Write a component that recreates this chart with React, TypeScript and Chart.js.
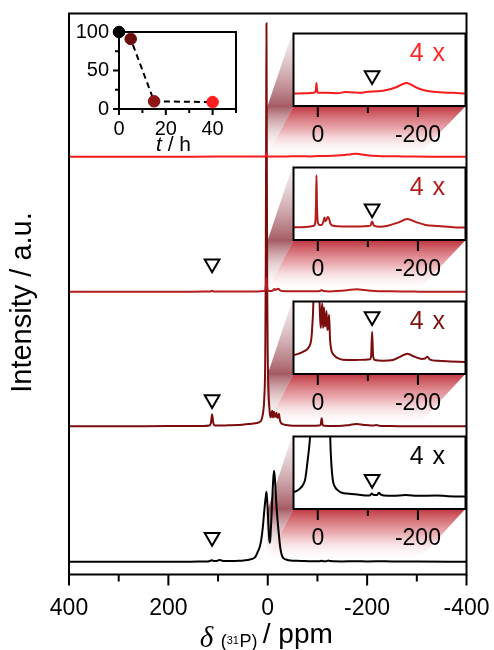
import { useEffect, useRef } from 'react';
import { Chart, registerables } from 'chart.js';

Chart.register(...registerables);

const SANS = "'Liberation Sans', Arial, Helvetica, sans-serif";
const SERIF = "'Liberation Serif', 'Times New Roman', serif";

// ---------------- data ----------------
// 31P spectra, top to bottom: 40 h, 15 h, 5 h, 0 h (intensity in a.u.)
const seriesNames = ['40 h', '15 h', '5 h', '0 h'];

const ppm40h = [400, 300, 200, 100, 50, 20, 8, 5, 3.8, 2.6, 1.4, 0, -20, -40, -55, -70, -85, -100, -120, -140, -155, -168, -177, -186, -200, -222, -250, -272, -295, -330, -400];
const int40h = [0, 0, 0, 0.1, 0.1, 0.2, 0.3, 0.5, 1.2, 2.9, 1.0, 0.3, 0.3, 0.2, 0.5, 0.4, 0.3, 0.6, 0.7, 1.1, 1.7, 2.5, 2.9, 2.5, 1.5, 0.7, 0.4, 0.3, 0.1, 0, 0];

const ppm15h = [400, 300, 200, 130, 115, 112, 109, 80, 50, 20, 8, 5, 3.6, 2.6, 1.6, 0, -4, -8, -11, -13.5, -15.5, -17.5, -20, -22.5, -25, -30, -50, -80, -100, -105, -108.5, -112, -125, -140, -160, -179, -195, -215, -240, -270, -295, -330, -400];
const int15h = [0, 0, 0, 0.1, 0.3, 0.9, 0.3, 0.2, 0.2, 0.3, 0.6, 1.5, 6, 14, 6, 1.5, 0.8, 0.8, 1.6, 2.8, 1.8, 2.2, 2.9, 2.5, 1.2, 0.6, 0.4, 0.4, 0.5, 0.6, 1.7, 0.6, 0.3, 0.6, 1.4, 2.4, 1.6, 0.8, 0.5, 0.2, 0.1, 0, 0];

const ppm5h = [400, 300, 200, 130, 118, 114.5, 112, 109.5, 106, 95, 80, 60, 48, 38, 28, 18, 13, 11, 9, 7, 5, 4, 3.2, 2.6, 2, 1.2, 0, -1.5, -3, -4.5, -6, -7.5, -9, -10.5, -12.5, -14, -15.5, -17.5, -19, -20.5, -22.5, -24.5, -27, -30, -34, -40, -50, -70, -95, -104, -106.5, -108.5, -110.5, -114, -130, -150, -165, -179, -193, -208, -214, -219, -224, -240, -265, -295, -330, -400];
const int5h = [0, 0, 0.2, 0.3, 0.8, 3, 12, 3, 0.8, 0.8, 1.0, 1.3, 1.8, 2.2, 2.8, 3.9, 6, 9.4, 15, 28, 70, 160, 300, 403, 300, 150, 70, 35, 20, 12, 9, 13, 15.5, 9, 14.5, 9.5, 10, 13.5, 8.5, 9, 12.5, 6, 3.2, 2.2, 1.6, 1.0, 0.6, 0.5, 0.6, 0.7, 1.6, 8, 1.6, 0.5, 0.3, 0.5, 1.4, 2.2, 1.4, 0.8, 0.9, 1.4, 0.6, 0.3, 0.1, 0, 0, 0];

const ppm0h = [400, 300, 200, 140, 120, 115, 112.5, 109, 104, 99, 96, 92, 85, 70, 55, 45, 36, 30, 25, 20, 16, 13, 10, 8, 6, 4, 2.6, 1, -1, -3, -4, -5, -7, -9, -11, -12.7, -14.5, -17, -20, -23, -25.5, -27.5, -30, -33, -38, -46, -58, -75, -95, -104, -108, -112, -118, -122, -126, -132, -150, -176, -200, -236, -260, -300, -400];
const int0h = [0, 0, 0, 0.1, 0.3, 1.0, 1.4, 0.7, 0.6, 1.5, 1.8, 1.0, 0.6, 0.6, 1.0, 1.4, 2.2, 3.1, 4.8, 10, 15, 22, 34, 45, 56, 65, 70, 60, 40, 23, 19, 22, 40, 62, 82, 91, 82, 60, 40, 24, 13, 8, 4.5, 3.0, 2.0, 1.2, 0.9, 0.7, 0.4, 0.4, 0.9, 0.5, 0.5, 1.1, 0.6, 0.4, 0.3, 0.5, 0.3, 0.4, 0.2, 0.1, 0];

const spectraPpm = [ppm40h, ppm15h, ppm5h, ppm0h];
const spectraInt = [int40h, int15h, int5h, int0h];
const stackOffsets = [417.8, 282.8, 148.2, 12.8];

// open-triangle markers
const mainMarkPpm = 112;
const mainMarkHeight = [null, 28, 26.7, 24.5];
const insetMarkPpm = -108.5;
const insetMarkHeight = [4.9, 5.1, 12.1, 4.7];

// inset (t / h) data
const timeHours = [0, 5, 15, 40];
const remainingPct = [100, 91, 10, 9];

// ---------------- styles / layout ----------------
const seriesColors = ['#f41c1c', '#b51d1d', '#7b0d0d', '#000000'];
const magnifyColors = ['#ff2626', '#b21c1c', '#821212', '#000000'];
const timeColors = ['#000000', '#690c0c', '#8f1515', '#ff1c1c'];

const W = 494, H = 650;
const MAIN = { left: 69, top: 13.5, right: 466.5, bottom: 574.5 };
const INSET_LEFT = 293.5, INSET_RIGHT = 465.5, INSET_H = 77;
const INSET_TOPS = [29.3, 163.3, 296.7, 431.7];
const INSET_CANVAS_LEFT = 280, INSET_CANVAS_W = 200, INSET_PAD_TOP = 6, INSET_AXIS_H = 44;
const INSET_PPM_MAX = 48.5, INSET_PPM_MIN = -295;
const INSET_Y_MIN = -3.2, INSET_Y_MAX = -3.2 + INSET_H / 4;
const TIME = { left: 60, top: 14, width: 200, height: 150 };

const isMult = (v: number, m: number) => Math.abs(v / m - Math.round(v / m)) < 1e-6;

function drawXTicks(ctx: any, scale: any, bottom: number, majorEvery: number, minorEvery: number, majorLen: number, minorLen: number) {
  ctx.save();
  ctx.strokeStyle = '#000';
  ctx.lineWidth = 2;
  scale.ticks.forEach((t: any) => {
    const v = t.value;
    if (!isMult(v, minorEvery)) return;
    const len = isMult(v, majorEvery) ? majorLen : minorLen;
    const px = scale.getPixelForValue(v);
    ctx.beginPath();
    ctx.moveTo(px, bottom);
    ctx.lineTo(px, bottom + len);
    ctx.stroke();
  });
  ctx.restore();
}

const mainDecor = {
  id: 'mainDecor',
  beforeDatasetsDraw(chart: any) {
    const { ctx } = chart;
    const x = chart.scales.x, y = chart.scales.y;
    const x1 = x.getPixelForValue(2);
    const x2 = x.getPixelForValue(-300);
    INSET_TOPS.forEach((T, i) => {
      const B = T + INSET_H;
      const base = y.getPixelForValue(stackOffsets[i]);
      ctx.save();
      let g = ctx.createLinearGradient(0, T, 0, base);
      g.addColorStop(0, 'rgba(205,175,180,0.15)');
      g.addColorStop((B - T) / (base - T), 'rgba(150,62,72,0.85)');
      g.addColorStop(1, 'rgba(255,255,255,0)');
      ctx.fillStyle = g;
      ctx.beginPath();
      ctx.moveTo(INSET_LEFT, T);
      ctx.lineTo(INSET_LEFT, B);
      ctx.lineTo(x1, base);
      ctx.lineTo(x1, T + 0.62 * (base - T));
      ctx.closePath();
      ctx.fill();
      g = ctx.createLinearGradient(0, B, 0, base);
      g.addColorStop(0, 'rgba(188,42,52,0.95)');
      g.addColorStop(0.45, 'rgba(218,112,120,0.6)');
      g.addColorStop(1, 'rgba(255,255,255,0)');
      ctx.fillStyle = g;
      ctx.beginPath();
      ctx.moveTo(INSET_LEFT, B);
      ctx.lineTo(INSET_RIGHT, B);
      ctx.lineTo(x2, base);
      ctx.lineTo(x1, base);
      ctx.closePath();
      ctx.fill();
      ctx.restore();
    });
  },
  afterDatasetsDraw(chart: any) {
    const { ctx, chartArea: a } = chart;
    const x = chart.scales.x;
    ctx.save();
    ctx.strokeStyle = '#000';
    ctx.lineWidth = 2;
    ctx.strokeRect(a.left, a.top, a.right - a.left, a.bottom - a.top);
    ctx.restore();
    drawXTicks(ctx, x, a.bottom, 200, 100, 11, 7);

    // x-axis title: δ (31P) / ppm
    const c = x.getPixelForValue(0);
    const base = 643;
    ctx.save();
    ctx.fillStyle = '#000';
    ctx.textBaseline = 'alphabetic';
    ctx.textAlign = 'left';
    ctx.font = `italic 29px ${SERIF}`;
    ctx.fillText('δ', c - 68, base + 4);
    let cx = c - 47;
    ctx.font = `18px ${SANS}`;
    ctx.fillText('(', cx, base + 3.5);
    cx += ctx.measureText('(').width;
    ctx.font = `11px ${SANS}`;
    ctx.fillText('31', cx, base + 0.5);
    cx += ctx.measureText('31').width + 0.5;
    ctx.font = `18px ${SANS}`;
    ctx.fillText('P', cx, base + 3.5);
    cx += ctx.measureText('P').width;
    ctx.fillText(')', cx, base + 3.5);
    ctx.font = `28px ${SANS}`;
    ctx.fillText('/ ppm', c - 5, base);
    ctx.restore();

    // y-axis title
    ctx.save();
    ctx.translate(23, 302.5);
    ctx.rotate(-Math.PI / 2);
    ctx.fillStyle = '#000';
    ctx.textAlign = 'center';
    ctx.textBaseline = 'middle';
    ctx.font = `29px ${SANS}`;
    ctx.fillText('Intensity / a.u.', 0, 0);
    ctx.restore();
  },
};

function insetDecor(i: number) {
  return {
    id: 'insetDecor' + i,
    beforeDatasetsDraw(chart: any) {
      const { ctx, chartArea: a } = chart;
      ctx.save();
      ctx.fillStyle = '#fff';
      ctx.fillRect(a.left, a.top, a.right - a.left, a.bottom - a.top);
      ctx.restore();
    },
    afterDatasetsDraw(chart: any) {
      const { ctx, chartArea: a } = chart;
      ctx.save();
      ctx.strokeStyle = '#000';
      ctx.lineWidth = 2;
      ctx.strokeRect(a.left, a.top, a.right - a.left, a.bottom - a.top);
      ctx.restore();
      drawXTicks(ctx, chart.scales.x, a.bottom, 200, 100, 11, 7);
      ctx.save();
      ctx.fillStyle = magnifyColors[i];
      ctx.font = `25px ${SANS}`;
      try { (ctx as any).letterSpacing = '1px'; } catch (e) { /* ignore */ }
      ctx.textBaseline = 'middle';
      ctx.textAlign = 'right';
      ctx.fillText('4 x', a.right - 19.5, a.top + 21);
      ctx.restore();
    },
  };
}

const timeDecor = {
  id: 'timeDecor',
  beforeDatasetsDraw(chart: any) {
    const { ctx, chartArea: a } = chart;
    ctx.save();
    ctx.strokeStyle = '#000';
    ctx.lineWidth = 2;
    ctx.strokeRect(a.left, a.top, a.right - a.left, a.bottom - a.top);
    const xs = chart.scales.x, ys = chart.scales.y;
    xs.ticks.forEach((t: any) => {
      const px = xs.getPixelForValue(t.value);
      const len = isMult(t.value, 20) ? 6 : 4;
      ctx.beginPath();
      ctx.moveTo(px, a.bottom);
      ctx.lineTo(px, a.bottom + len);
      ctx.stroke();
    });
    ys.ticks.forEach((t: any) => {
      const py = ys.getPixelForValue(t.value);
      const len = isMult(t.value, 50) ? 6 : 4;
      ctx.beginPath();
      ctx.moveTo(a.left, py);
      ctx.lineTo(a.left - len, py);
      ctx.stroke();
    });
    // "t / h"
    ctx.fillStyle = '#000';
    ctx.textBaseline = 'alphabetic';
    ctx.textAlign = 'left';
    ctx.font = `italic 21px ${SANS}`;
    const wt = ctx.measureText('t').width;
    ctx.font = `21px ${SANS}`;
    const wr = ctx.measureText(' / h').width;
    const start = (a.left + a.right) / 2 - 4 - (wt + wr) / 2;
    const by = a.bottom + 41.5;
    ctx.font = `italic 21px ${SANS}`;
    ctx.fillText('t', start, by);
    ctx.font = `21px ${SANS}`;
    ctx.fillText(' / h', start + wt, by);
    ctx.restore();
  },
};

const noPad = (s: any) => {
  s.paddingLeft = 0;
  s.paddingRight = 0;
  s.paddingTop = 0;
  s.paddingBottom = 0;
};

function spectrumData(i: number, offset: number) {
  return spectraPpm[i].map((p, k) => ({ x: p, y: spectraInt[i][k] + offset }));
}

function triangleDataset(data: any[]) {
  return {
    type: 'scatter',
    data,
    pointStyle: 'triangle',
    pointRotation: 180,
    pointRadius: 8.5,
    pointBorderWidth: 2,
    pointBorderColor: '#000',
    pointBackgroundColor: 'rgba(255,255,255,0)',
    showLine: false,
    clip: false,
  };
}

function buildMain(canvas: HTMLCanvasElement) {
  const marks: any[] = [];
  mainMarkHeight.forEach((h, i) => {
    if (h != null) marks.push({ x: mainMarkPpm, y: stackOffsets[i] + h });
  });
  const datasets: any[] = [triangleDataset(marks)];
  seriesNames.forEach((name, i) => {
    datasets.push({
      type: 'line',
      label: name,
      data: spectrumData(i, stackOffsets[i]),
      borderColor: seriesColors[i],
      borderWidth: 2,
      pointRadius: 0,
      cubicInterpolationMode: 'monotone',
      fill: false,
    });
  });
  return new Chart(canvas, {
    type: 'line',
    data: { datasets },
    options: {
      responsive: false,
      animation: false,
      events: [],
      devicePixelRatio: 1,
      layout: { padding: { left: MAIN.left, right: W - MAIN.right, top: MAIN.top, bottom: 0 } },
      plugins: { legend: { display: false }, tooltip: { enabled: false } },
      scales: {
        x: {
          type: 'linear',
          reverse: true,
          min: -400,
          max: 400,
          grid: { display: false, drawTicks: false },
          border: { display: false },
          ticks: {
            stepSize: 100,
            autoSkip: false,
            maxRotation: 0,
            padding: 20,
            color: '#000',
            font: { family: SANS, size: 23 },
            callback: (v: any) => (isMult(v, 200) ? String(v) : ''),
          },
          afterFit: (s: any) => {
            s.height = H - MAIN.bottom;
            noPad(s);
          },
        },
        y: { type: 'linear', display: false, min: 0, max: MAIN.bottom - MAIN.top },
      },
    } as any,
    plugins: [mainDecor],
  } as any);
}

function buildInset(canvas: HTMLCanvasElement, i: number) {
  return new Chart(canvas, {
    type: 'line',
    data: {
      datasets: [
        triangleDataset([{ x: insetMarkPpm, y: insetMarkHeight[i] }]),
        {
          type: 'line',
          label: seriesNames[i] + ' (4 x)',
          data: spectrumData(i, 0),
          borderColor: seriesColors[i],
          borderWidth: 2,
          pointRadius: 0,
          cubicInterpolationMode: 'monotone',
          fill: false,
        },
      ],
    },
    options: {
      responsive: false,
      animation: false,
      events: [],
      devicePixelRatio: 1,
      layout: {
        padding: {
          left: INSET_LEFT - INSET_CANVAS_LEFT,
          right: INSET_CANVAS_LEFT + INSET_CANVAS_W - INSET_RIGHT,
          top: INSET_PAD_TOP,
          bottom: 0,
        },
      },
      plugins: { legend: { display: false }, tooltip: { enabled: false } },
      scales: {
        x: {
          type: 'linear',
          reverse: true,
          min: INSET_PPM_MIN,
          max: INSET_PPM_MAX,
          grid: { display: false, drawTicks: false },
          border: { display: false },
          ticks: {
            stepSize: 100,
            includeBounds: false,
            autoSkip: false,
            maxRotation: 0,
            padding: 16,
            color: '#000',
            font: { family: SANS, size: 23 },
            callback: (v: any) => (isMult(v, 200) ? String(v) : ''),
          },
          afterFit: (s: any) => {
            s.height = INSET_AXIS_H;
            noPad(s);
          },
        },
        y: { type: 'linear', display: false, min: INSET_Y_MIN, max: INSET_Y_MAX },
      },
    } as any,
    plugins: [insetDecor(i)],
  } as any);
}

function buildTime(canvas: HTMLCanvasElement) {
  return new Chart(canvas, {
    type: 'scatter',
    data: {
      datasets: [
        {
          label: 'remaining / %',
          data: timeHours.map((t, k) => ({ x: t, y: remainingPct[k] })),
          showLine: true,
          borderColor: '#000',
          borderWidth: 2,
          borderDash: [6, 4],
          pointRadius: 5.8,
          pointBackgroundColor: timeColors,
          pointBorderColor: timeColors,
          pointBorderWidth: 1,
          clip: false,
        },
      ],
    },
    options: {
      responsive: false,
      animation: false,
      events: [],
      devicePixelRatio: 1,
      layout: { padding: { left: 0, right: 24, top: 18, bottom: 0 } },
      plugins: { legend: { display: false }, tooltip: { enabled: false } },
      scales: {
        x: {
          type: 'linear',
          min: 0,
          max: 50,
          grid: { display: false, drawTicks: false },
          border: { display: false },
          ticks: {
            stepSize: 10,
            autoSkip: false,
            maxRotation: 0,
            padding: 8,
            color: '#000',
            font: { family: SANS, size: 20 },
            callback: (v: any) => (isMult(v, 20) ? String(v) : ''),
          },
          afterFit: (s: any) => {
            s.height = 55;
            noPad(s);
          },
        },
        y: {
          type: 'linear',
          min: 0,
          max: 100,
          grid: { display: false, drawTicks: false },
          border: { display: false },
          ticks: {
            stepSize: 25,
            autoSkip: false,
            padding: 10,
            color: '#000',
            font: { family: SANS, size: 20 },
            callback: (v: any) => (isMult(v, 50) ? String(v) : ''),
          },
          afterFit: (s: any) => {
            s.width = 59;
            noPad(s);
          },
        },
      },
    } as any,
    plugins: [timeDecor],
  } as any);
}

export default function App() {
  const mainRef = useRef<HTMLCanvasElement>(null);
  const timeRef = useRef<HTMLCanvasElement>(null);
  const r0 = useRef<HTMLCanvasElement>(null);
  const r1 = useRef<HTMLCanvasElement>(null);
  const r2 = useRef<HTMLCanvasElement>(null);
  const r3 = useRef<HTMLCanvasElement>(null);
  const insetRefs = [r0, r1, r2, r3];

  useEffect(() => {
    const charts: Chart[] = [];
    if (mainRef.current) charts.push(buildMain(mainRef.current));
    insetRefs.forEach((r, i) => {
      if (r.current) charts.push(buildInset(r.current, i));
    });
    if (timeRef.current) charts.push(buildTime(timeRef.current));
    return () => charts.forEach((c) => c.destroy());
  }, []);

  const insetH = INSET_PAD_TOP + INSET_H + INSET_AXIS_H;
  return (
    <div style={{ position: 'absolute', left: 0, top: 0, width: W, height: H, background: '#fff', overflow: 'hidden' }}>
      <canvas ref={mainRef} width={W} height={H} style={{ position: 'absolute', left: 0, top: 0 }} />
      {insetRefs.map((r, i) => (
        <canvas
          key={i}
          ref={r}
          width={INSET_CANVAS_W}
          height={insetH}
          style={{ position: 'absolute', left: INSET_CANVAS_LEFT, top: INSET_TOPS[i] - INSET_PAD_TOP }}
        />
      ))}
      <canvas ref={timeRef} width={TIME.width} height={TIME.height} style={{ position: 'absolute', left: TIME.left, top: TIME.top }} />
    </div>
  );
}
